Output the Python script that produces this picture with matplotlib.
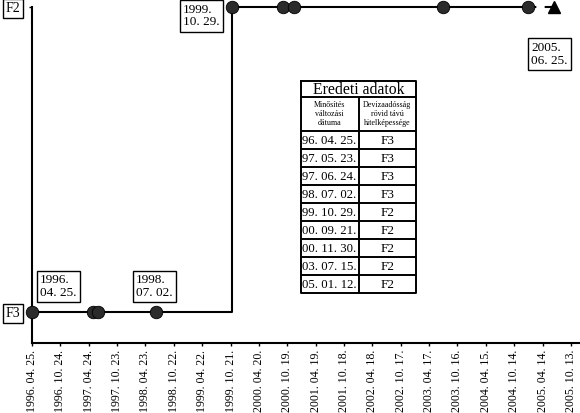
import matplotlib
matplotlib.use('Agg')
import matplotlib.pyplot as plt
import matplotlib.dates as mdates
from datetime import datetime

plt.rcParams['font.family'] = ['Liberation Serif', 'DejaVu Serif']

# rating changes
change_dates = ['1996-04-25', '1997-05-23', '1997-06-24', '1998-07-02', '1999-10-29',
                '2000-09-21', '2000-11-30', '2003-07-15', '2005-01-12']
ratings = ['F3', 'F3', 'F3', 'F3', 'F2', 'F2', 'F2', 'F2', 'F2']
rating_levels = ['F3', 'F2']

# forecast point
forecast_date = '2005-06-25'
forecast_rating = 'F2'

# dates that get a boxed label
labelled_dates = ['1996-04-25', '1998-07-02', '1999-10-29', '2005-06-25']

tick_dates = ['1996-04-25', '1996-10-24', '1997-04-24', '1997-10-23', '1998-04-23',
              '1998-10-22', '1999-04-22', '1999-10-21', '2000-04-20', '2000-10-19',
              '2001-04-19', '2001-10-18', '2002-04-18', '2002-10-17', '2003-04-17',
              '2003-10-16', '2004-04-15', '2004-10-14', '2005-04-14', '2005-10-13']

# table contents
table_title = 'Eredeti adatok'
table_header = ['Minősítés\nváltozási\ndátuma', 'Devizaadósság\nrövid távú\nhitelképessége']
table_dates = ['96. 04. 25.', '97. 05. 23.', '97. 06. 24.', '98. 07. 02.', '99. 10. 29.',
               '00. 09. 21.', '00. 11. 30.', '03. 07. 15.', '05. 01. 12.']
table_ratings = ['F3', 'F3', 'F3', 'F3', 'F2', 'F2', 'F2', 'F2', 'F2']


def to_num(s):
    return mdates.date2num(datetime.strptime(s, '%Y-%m-%d'))


def box_label(s):
    d = datetime.strptime(s, '%Y-%m-%d')
    return d.strftime('%Y.') + '\n' + d.strftime('%m. %d.')


x = [to_num(d) for d in change_dates]
y = [rating_levels.index(r) for r in ratings]
fx = to_num(forecast_date)
fy = rating_levels.index(forecast_rating)

W, H = 580, 413
fig = plt.figure(figsize=(W / 100, H / 100), dpi=100)
ax = fig.add_axes([32 / W, 70 / H, 548 / W, 336 / H])

ink = '#2b2b2b'
ax.plot(x, y, drawstyle='steps-post', color='black', lw=1.5, zorder=2, clip_on=False)
ax.plot(x, y, 'o', ms=9, color=ink, mec='black', mew=0.6, zorder=3, clip_on=False)
ax.plot([x[-1], fx], [y[-1], fy], color='black', lw=1.5, ls=(0, (4, 4)), zorder=2, clip_on=False)
ax.plot([fx], [fy], '^', ms=9, color='black', zorder=3, clip_on=False)

# axes
x0 = to_num(tick_dates[0])
ax.set_xlim(x0, x0 + 3516)
ax.set_ylim(-0.102, 1.0)
for s in ['top', 'right']:
    ax.spines[s].set_visible(False)
for s in ['left', 'bottom']:
    ax.spines[s].set_linewidth(1.5)

ax.set_xticks([to_num(d) for d in tick_dates])
ax.set_xticklabels([datetime.strptime(d, '%Y-%m-%d').strftime('%Y. %m. %d.') for d in tick_dates],
                   rotation=90, fontsize=8.6)
ax.tick_params(axis='x', length=2, width=1, pad=3)

ax.set_yticks(range(len(rating_levels)))
ax.set_yticklabels(rating_levels, fontsize=10)
ax.tick_params(axis='y', length=2.5, width=1, pad=6)
for lab in ax.get_yticklabels():
    lab.set_bbox(dict(boxstyle='square,pad=0.2', fc='white', ec='black', lw=1))

# boxed date labels
bbox = dict(boxstyle='square,pad=0.25', fc='white', ec='black', lw=1)
offsets = {
    '1996-04-25': ((5.8, 9.4), 'left', 'bottom'),
    '1998-07-02': ((-1.5, 9.4), 'center', 'bottom'),
    '1999-10-29': ((-8.6, 2.5), 'right', 'top'),
    '2005-06-25': ((-3, -25), 'center', 'top'),
}
for d in labelled_dates:
    if d == forecast_date:
        px, py = fx, fy
    else:
        px, py = to_num(d), y[change_dates.index(d)]
    off, ha, va = offsets[d]
    ax.annotate(box_label(d), (px, py), xytext=off, textcoords='offset points',
                ha=ha, va=va, multialignment='left', fontsize=9.5, linespacing=1.1,
                bbox=bbox, zorder=5, annotation_clip=False)

# table drawn in its own axes, pixel units
tw, th = 115, 212
tax = fig.add_axes([301 / W, (H - 293) / H, tw / W, th / H])
tax.set_xlim(0, tw)
tax.set_ylim(th, 0)
tax.axis('off')
lw = 1.4
title_h, head_h = 16, 34
row_h = (th - title_h - head_h) / len(table_dates)
col = 57.5
tax.plot([0, tw, tw, 0, 0], [0, 0, th, th, 0], color='black', lw=lw, clip_on=False)
tax.plot([0, tw], [title_h, title_h], color='black', lw=lw)
tax.plot([col, col], [title_h, th], color='black', lw=lw)
tax.text(tw / 2, title_h / 2 + 0.5, table_title, ha='center', va='center', fontsize=11.3)
for i, t in enumerate(table_header):
    tax.text(col * i + col / 2, title_h + head_h / 2, t, ha='center', va='center',
             fontsize=5.8, linespacing=1.2)
for i, (d, r) in enumerate(zip(table_dates, table_ratings)):
    top = title_h + head_h + i * row_h
    tax.plot([0, tw], [top, top], color='black', lw=lw)
    tax.text(1.2, top + row_h / 2 + 0.5, d, ha='left', va='center', fontsize=9.2)
    tax.text(col + (tw - col) / 2, top + row_h / 2 + 0.5, r, ha='center', va='center', fontsize=9.5)

fig.savefig('out.png', dpi=100)
